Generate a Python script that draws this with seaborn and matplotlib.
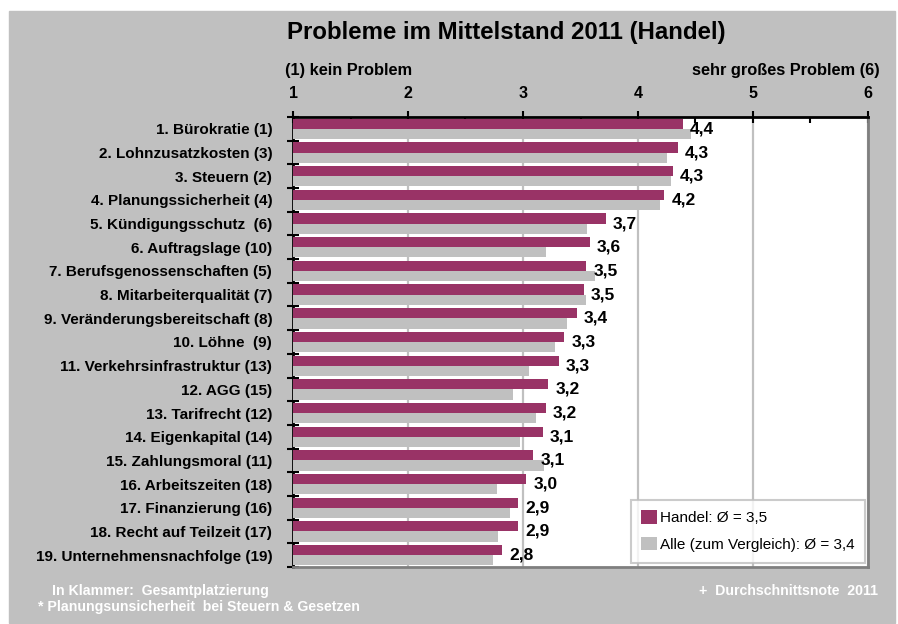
import pandas as pd
import matplotlib.pyplot as plt
import seaborn as sns
from matplotlib.patches import Rectangle
from matplotlib.ticker import MultipleLocator

# Daten
kategorien = ['1. Bürokratie (1)', '2. Lohnzusatzkosten (3)', '3. Steuern (2)',
              '4. Planungssicherheit (4)', '5. Kündigungsschutz  (6)', '6. Auftragslage (10)',
              '7. Berufsgenossenschaften (5)', '8. Mitarbeiterqualität (7)',
              '9. Veränderungsbereitschaft (8)', '10. Löhne  (9)', '11. Verkehrsinfrastruktur (13)',
              '12. AGG (15)', '13. Tarifrecht (12)', '14. Eigenkapital (14)',
              '15. Zahlungsmoral (11)', '16. Arbeitszeiten (18)', '17. Finanzierung (16)',
              '18. Recht auf Teilzeit (17)', '19. Unternehmensnachfolge (19)']
handel = [4.39, 4.35, 4.30, 4.23, 3.72, 3.58, 3.55, 3.53, 3.47, 3.36,
          3.31, 3.22, 3.20, 3.17, 3.09, 3.03, 2.96, 2.96, 2.82]
alle = [4.46, 4.25, 4.29, 4.19, 3.56, 3.20, 3.63, 3.55, 3.38, 3.28,
        3.05, 2.91, 3.11, 2.97, 3.18, 2.77, 2.89, 2.78, 2.74]
wert_labels = ['4,4', '4,3', '4,3', '4,2', '3,7', '3,6', '3,5', '3,5', '3,4', '3,3',
               '3,3', '3,2', '3,2', '3,1', '3,1', '3,0', '2,9', '2,9', '2,8']
serien = ['Handel: Ø = 3,5', 'Alle (zum Vergleich): Ø = 3,4']
farben = ['#993366', '#c0c0c0']

df = pd.DataFrame({
    'Kategorie': kategorien * 2,
    'Wert': handel + alle,
    'Serie': [serien[0]] * len(handel) + [serien[1]] * len(alle),
})

sns.set_theme(style='white')
plt.rcParams['font.family'] = ['Liberation Sans', 'DejaVu Sans']
plt.rcParams['text.color'] = 'black'
plt.rcParams['xtick.color'] = 'black'
plt.rcParams['ytick.color'] = 'black'

fig = plt.figure(figsize=(8.98, 6.24), dpi=100, facecolor='white')
fig.patches.append(Rectangle((9 / 898, 1 - 623 / 624), 886 / 898, 612 / 624,
                             transform=fig.transFigure, color='#c0c0c0', zorder=-1))
ax = fig.add_axes([293 / 898, 1 - 567 / 624, 575 / 898, 450 / 624])
ax.set_facecolor('white')

sns.barplot(data=df, y='Kategorie', x='Wert', hue='Serie', palette=farben,
            saturation=1, width=0.86, linewidth=0, ax=ax, zorder=3)

ax.set_xlim(1, 6)
ax.set_ylim(18.5, -0.5)
ax.set_xlabel('')
ax.set_ylabel('')

# Achsen oben
ax.xaxis.set_major_locator(MultipleLocator(1))
ax.xaxis.set_minor_locator(MultipleLocator(0.5))
ax.tick_params(axis='x', which='major', top=True, bottom=False, labeltop=True,
               labelbottom=False, direction='inout', length=9, width=1.5,
               color='black', pad=7, labelsize=11.5)
ax.tick_params(axis='x', which='minor', top=True, bottom=False, direction='in',
               length=4, width=1.5, color='black')
for t in ax.get_xticklabels():
    t.set_fontweight('bold')
ax.xaxis.grid(True, color='#c0c0c0', linewidth=1.6, zorder=0)
ax.set_axisbelow(True)

# Kategorien links
ax.set_yticks(range(len(kategorien)))
ax.set_yticklabels(kategorien, fontsize=11, fontweight='bold')
ax.set_yticks([i - 0.5 for i in range(len(kategorien) + 1)], minor=True)
ax.tick_params(axis='y', which='major', length=0, pad=15)
ax.tick_params(axis='y', which='minor', left=True, direction='inout', length=9,
               width=1.5, color='black')

for s in ['top', 'left']:
    ax.spines[s].set_color('black')
    ax.spines[s].set_linewidth(2)
for s in ['bottom', 'right']:
    ax.spines[s].set_color('#7f7f7f')
    ax.spines[s].set_linewidth(2)

# Werte
for i, (v, lab) in enumerate(zip(handel, wert_labels)):
    ax.text(v + 0.06, i, lab, va='center', ha='left', fontsize=12.5,
            fontweight='bold', zorder=5)

leg = ax.legend(loc='lower right', bbox_to_anchor=(0.995, 0.01), fontsize=11,
                frameon=True, fancybox=False, edgecolor='#bfbfbf',
                handlelength=1.0, handleheight=1.0, handletextpad=0.2,
                labelspacing=0.75, borderpad=0.7, borderaxespad=0)
leg.get_frame().set_linewidth(1.5)

fig.text(506 / 898, 1 - 33 / 624, 'Probleme im Mittelstand 2011 (Handel)', ha='center',
         va='center', fontsize=17.3, fontweight='bold')
fig.text(285 / 898, 1 - 70 / 624, '(1) kein Problem', ha='left', va='center',
         fontsize=11.8, fontweight='bold')
fig.text(880 / 898, 1 - 70 / 624, 'sehr großes Problem (6)', ha='right', va='center',
         fontsize=11.8, fontweight='bold')
fig.text(52 / 898, 1 - 591 / 624, 'In Klammer:  Gesamtplatzierung', ha='left', va='center',
         fontsize=10.2, fontweight='bold', color='white')
fig.text(38 / 898, 1 - 607 / 624, '* Planungsunsicherheit  bei Steuern & Gesetzen',
         ha='left', va='center', fontsize=10.2, fontweight='bold', color='white')
fig.text(878 / 898, 1 - 591 / 624, '+  Durchschnittsnote  2011', ha='right', va='center',
         fontsize=10.2, fontweight='bold', color='white')

plt.savefig('out.png', dpi=100, facecolor='white')
